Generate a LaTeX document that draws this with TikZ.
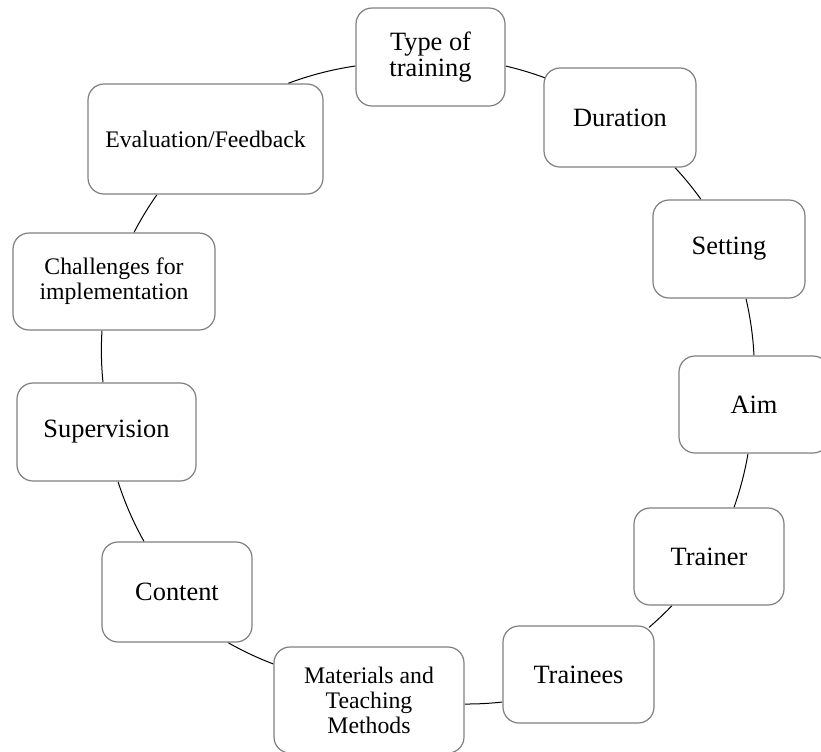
\documentclass[tikz,border=0pt]{standalone}
\usepackage{fontspec}
\setmainfont{Liberation Serif}
\usetikzlibrary{calc,backgrounds}
\begin{document}
\begin{tikzpicture}[x=0.75pt,y=-0.75pt,
  box/.style={draw=black!50, line width=0.9pt, rounded corners=12pt, fill=white,
    align=center, inner sep=0pt, font=\fontsize{19.8}{19.3}\selectfont},
  smallbox/.style={box, font=\fontsize{17.8}{18.75}\selectfont},
  link/.style={draw=black, line width=0.75pt, looseness=0.85}]
\useasboundingbox (0,0) rectangle (821,751);
\node[box, minimum width=111.75pt, minimum height=73.5pt] (type) at (430.5,57) {Type of\\training};
\node[box, minimum width=114pt, minimum height=74.25pt] (dur) at (620,117.5) {Duration};
\node[box, minimum width=114pt, minimum height=73.5pt] (set) at (729,249) {Setting};
\node[box, minimum width=112.5pt, minimum height=72.75pt] (aim) at (754,404.5) {Aim};
\node[box, minimum width=112.5pt, minimum height=72.75pt] (trainer) at (709,556.5) {Trainer};
\node[box, minimum width=113.25pt, minimum height=72.75pt] (trainees) at (578.5,674.5) {Trainees};
\node[smallbox, minimum width=142.5pt, minimum height=79.5pt] (mat) at (369,700) {Materials and\\Teaching\\Methods};
\node[box, minimum width=112.5pt, minimum height=75pt] (content) at (177,592) {Content};
\node[box, minimum width=134.25pt, minimum height=73.5pt] (sup) at (106.5,432) {Supervision};
\node[smallbox, minimum width=151.5pt, minimum height=72.75pt] (chal) at (114,281.5) {Challenges for\\implementation};
\node[smallbox, minimum width=176.25pt, minimum height=82.5pt] (eval) at (205.5,139) {Evaluation/Feedback};
\begin{scope}[on background layer]
\draw[link] ($(eval.north)+(82.5,0)$) to[bend left=6.2] ($(type.west)+(0,9)$);
\draw[link] ($(type.east)+(0,9)$) to[bend left=3.6] ($(dur.west)+(2,-39.5)$);
\draw[link] ($(dur.south)+(55,0)$) to[bend left=3.65] ($(set.north)+(-28,0)$);
\draw[link] ($(set.south)+(17,0)$) to[bend left=5.05] (aim.north);
\draw[link] ($(aim.south)+(-6,0)$) to[bend left=4.95] ($(trainer.north)+(25,0)$);
\draw[link] ($(trainer.south)+(-37,0)$) to[bend left=2.7] ($(trainees.north)+(70.5,2)$);
\draw[link] ($(trainees.west)+(0,27.5)$) to[bend left=3.45] ($(mat.east)+(0,4)$);
\draw[link] ($(mat.west)+(0,-36)$) to[bend left=4.45] ($(content.south)+(51,0)$);
\draw[link] ($(content.north)+(-33,0)$) to[bend left=5.85] ($(sup.south)+(11.5,0)$);
\draw[link] ($(sup.north)+(-3.5,0)$) to[bend left=4.7] ($(chal.south)+(-12,0)$);
\draw[link] ($(chal.north)+(20,0)$) to[bend left=3.9] ($(eval.south)+(-48.5,0)$);
\end{scope}
\end{tikzpicture}
\end{document}
